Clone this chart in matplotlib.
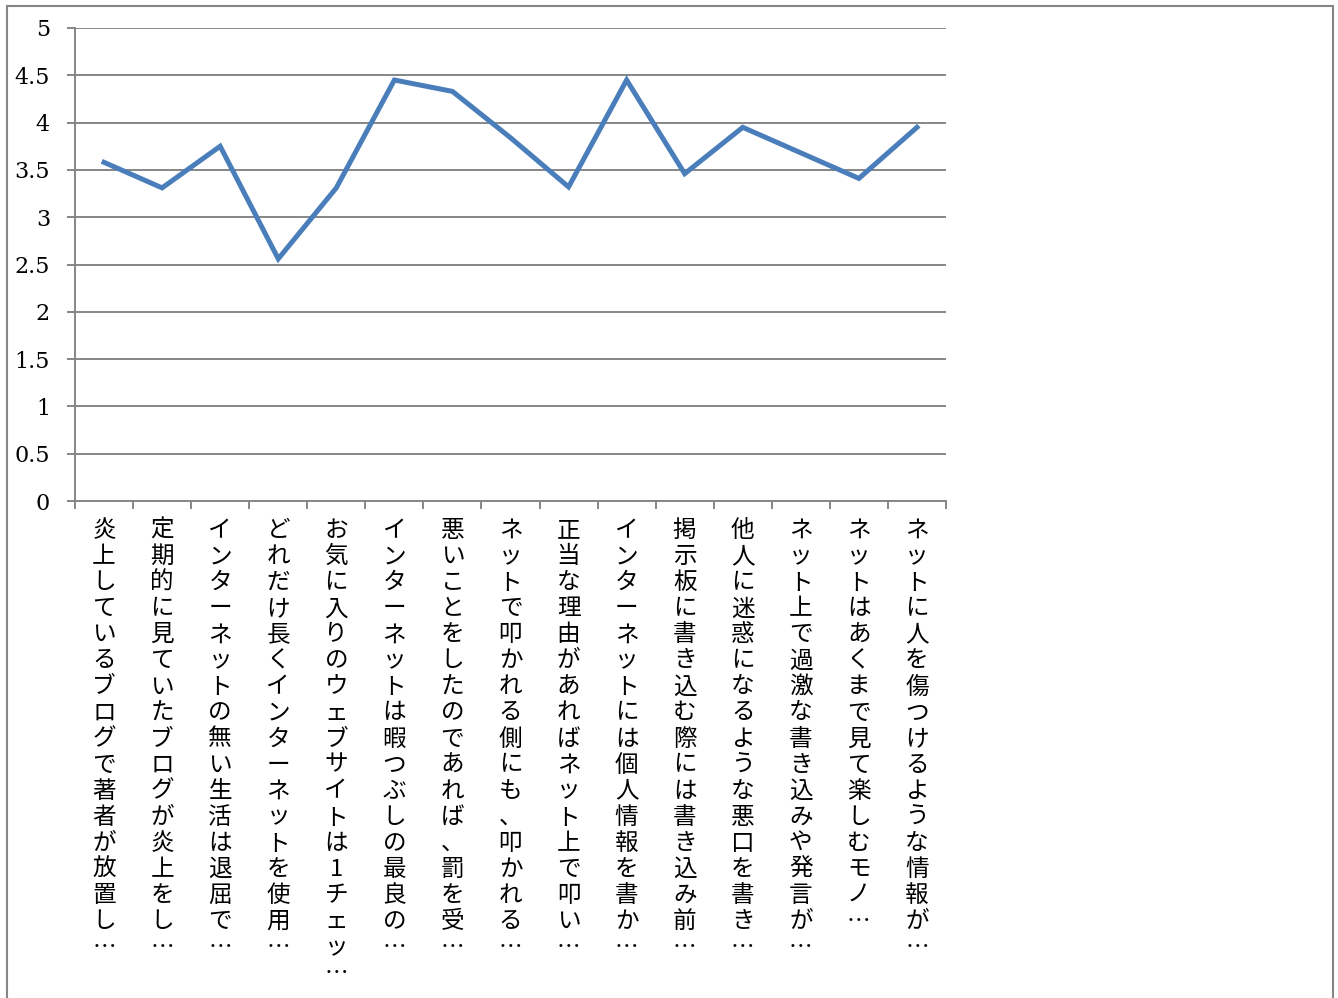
import numpy as np
import matplotlib
matplotlib.use("Agg")
import matplotlib.pyplot as plt
from matplotlib.patches import Rectangle

# survey items (truncated as in the original chart)
categories = [
    "炎上しているブログで著者が放置し…",
    "定期的に見ていたブログが炎上をし…",
    "インターネットの無い生活は退屈で…",
    "どれだけ長くインターネットを使用…",
    "お気に入りのウェブサイトは1チェッ…",
    "インターネットは暇つぶしの最良の…",
    "悪いことをしたのであれば、罰を受…",
    "ネットで叩かれる側にも、叩かれる…",
    "正当な理由があればネット上で叩い…",
    "インターネットには個人情報を書か…",
    "掲示板に書き込む際には書き込み前…",
    "他人に迷惑になるような悪口を書き…",
    "ネット上で過激な書き込みや発言が…",
    "ネットはあくまで見て楽しむモノ…",
    "ネットに人を傷つけるような情報が…",
]
scores = [3.58, 3.31, 3.75, 2.56, 3.31, 4.45, 4.33, 3.84, 3.32, 4.45,
          3.46, 3.95, 3.68, 3.41, 3.95]
y_ticks = [0, 0.5, 1, 1.5, 2, 2.5, 3, 3.5, 4, 4.5, 5]
y_tick_labels = ["0", "0.5", "1", "1.5", "2", "2.5", "3", "3.5", "4", "4.5", "5"]

grey = "#868686"
blue = "#4A7EBB"

fig = plt.figure(figsize=(13.38, 9.98), dpi=100)
ax = fig.add_axes([75 / 1338, 1 - 501 / 998, (946 - 75) / 1338, (501 - 28) / 998])

x = np.arange(len(scores))
ax.plot(x, scores, color=blue, linewidth=3.6, solid_joinstyle="miter", zorder=3)

ax.set_xlim(-0.5, len(scores) - 0.5)
ax.set_ylim(0, 5)

# horizontal gridlines
ax.set_yticks(y_ticks)
ax.set_yticklabels(y_tick_labels, family=["DejaVu Serif"], fontsize=16)
ax.yaxis.grid(True, color=grey, linewidth=1.4)
ax.set_axisbelow(True)
ax.tick_params(axis="y", length=6, width=1.4, color=grey, pad=12)

# category boundaries get the tick marks, centres get the labels
ax.set_xticks(np.arange(len(scores) + 1) - 0.5)
ax.set_xticklabels([])
ax.tick_params(axis="x", which="major", length=6, width=1.4, color=grey)
ax.set_xticks(x, minor=True)
ax.set_xticklabels(["\n".join(c) for c in categories], minor=True,
                   family=["Noto Sans CJK JP", "DejaVu Sans"], fontsize=17,
                   linespacing=1.17, va="top")
ax.tick_params(axis="x", which="minor", length=0, pad=13)

for s in ["top", "right"]:
    ax.spines[s].set_visible(False)
for s in ["left", "bottom"]:
    ax.spines[s].set_color(grey)
    ax.spines[s].set_linewidth(1.4)

# outer chart border
fig.patches.append(Rectangle((7 / 1338, -0.05), (1333 - 7) / 1338, 1.05 - 6 / 998,
                             transform=fig.transFigure, fill=False,
                             edgecolor=grey, linewidth=1.5))

fig.savefig("out.png", dpi=100, facecolor="white")
